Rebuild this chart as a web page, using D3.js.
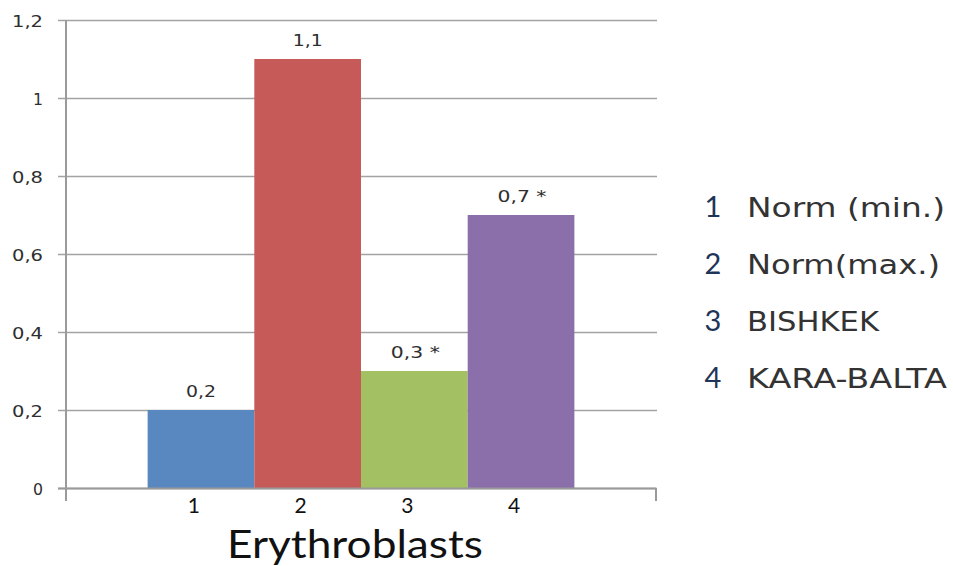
<!DOCTYPE html>
<html>
<head>
<meta charset="utf-8">
<script src="https://cdn.jsdelivr.net/npm/d3@7"></script>
<style>
  html, body { margin: 0; padding: 0; background: #fff; }
  svg { display: block; }
</style>
</head>
<body>
<svg id="chart" width="953" height="566"></svg>
<script>
// ---- data ----
const categories = ["1", "2", "3", "4"];
const values = [0.2, 1.1, 0.3, 0.7];
const valueLabels = ["0,2", "1,1", "0,3 *", "0,7 *"];
const seriesNames = ["Norm (min.)", "Norm(max.)", "BISHKEK", "KARA-BALTA"];
const colors = ["#5987C0", "#C65A58", "#A3C163", "#8A6FAA"];
const yTicks = [0, 0.2, 0.4, 0.6, 0.8, 1, 1.2];
const yTickLabels = ["0", "0,2", "0,4", "0,6", "0,8", "1", "1,2"];
const axisTitle = "Erythroblasts";

// ---- layout ----
const svg = d3.select("#chart");
const pL = 66, pR = 656, pT = 20, pB = 488;

const y = d3.scaleLinear().domain([0, 1.2]).range([pB, pT]);
const x = d3.scaleBand().domain(categories).range([pL, pR])
  .paddingInner(0).paddingOuter(0.765);

// gridlines + y ticks
svg.append("g").selectAll("line").data(yTicks).join("line")
  .attr("x1", pL - 8).attr("x2", pR + 1)
  .attr("y1", d => Math.round(y(d)) + 0.5).attr("y2", d => Math.round(y(d)) + 0.5)
  .attr("stroke", "#a3a3a3").attr("stroke-width", 1.3);

// y tick labels
svg.append("g").selectAll("text").data(yTicks).join("text")
  .attr("x", 43).attr("y", d => y(d) + 7)
  .attr("text-anchor", "end")
  .attr("font-family", "DejaVu Sans")
  .attr("font-size", 15.5)
  .attr("fill", "#2e2e2e")
  .attr("textLength", (d, i) => yTickLabels[i].length === 1 ? 10 : 31)
  .attr("lengthAdjust", "spacingAndGlyphs")
  .text((d, i) => yTickLabels[i]);

// bars
svg.append("g").selectAll("rect").data(values).join("rect")
  .attr("x", (d, i) => x(categories[i]))
  .attr("width", x.bandwidth())
  .attr("y", d => y(d))
  .attr("height", d => y(0) - y(d))
  .attr("fill", (d, i) => colors[i]);

// axes lines
svg.append("line").attr("x1", pL).attr("x2", pL).attr("y1", pT).attr("y2", pB + 13)
  .attr("stroke", "#9a9a9a").attr("stroke-width", 2);
svg.append("line").attr("x1", pL - 8).attr("x2", pR).attr("y1", pB + 0.5).attr("y2", pB + 0.5)
  .attr("stroke", "#9a9a9a").attr("stroke-width", 2);
svg.append("line").attr("x1", pR).attr("x2", pR).attr("y1", pB).attr("y2", pB + 13)
  .attr("stroke", "#9a9a9a").attr("stroke-width", 2);

// value labels
svg.append("g").selectAll("text").data(values).join("text")
  .attr("x", (d, i) => x(categories[i]) + x.bandwidth() / 2 + (valueLabels[i].length > 3 ? 1 : 0))
  .attr("y", d => y(d) - 13)
  .attr("text-anchor", "middle")
  .attr("font-family", "DejaVu Sans")
  .attr("font-size", 15)
  .attr("fill", "#2e2e2e")
  .attr("textLength", (d, i) => valueLabels[i].length > 3 ? 49 : 30)
  .attr("lengthAdjust", "spacingAndGlyphs")
  .text((d, i) => valueLabels[i]);

// category labels
svg.append("g").selectAll("text").data(categories).join("text")
  .attr("x", d => x(d) + x.bandwidth() / 2 - 7)
  .attr("y", pB + 25)
  .attr("text-anchor", "middle")
  .attr("font-family", "Lato")
  .attr("font-size", 21)
  .attr("fill", "#111")
  .text(d => d);

// axis title
svg.append("text")
  .attr("x", (pL + pR) / 2 - 6)
  .attr("y", 558)
  .attr("text-anchor", "middle")
  .attr("font-family", "Lato")
  .attr("font-size", 39)
  .attr("fill", "#111")
  .attr("textLength", 256)
  .attr("lengthAdjust", "spacingAndGlyphs")
  .text(axisTitle);

// legend
const legendY = d3.scalePoint().domain(categories).range([217, 388]);
const legendWidths = [198, 193, 132, 200];
const lg = svg.append("g");
lg.selectAll("text.num").data(categories).join("text")
  .attr("class", "num")
  .attr("x", 713).attr("y", d => legendY(d))
  .attr("text-anchor", "middle")
  .attr("font-family", "Lato")
  .attr("font-size", 29)
  .attr("fill", "#1f3558")
  .text(d => d);
lg.selectAll("text.lab").data(seriesNames).join("text")
  .attr("class", "lab")
  .attr("x", 747).attr("y", (d, i) => legendY(categories[i]))
  .attr("font-family", "DejaVu Sans")
  .attr("font-size", 27)
  .attr("fill", "#333")
  .attr("textLength", (d, i) => legendWidths[i])
  .attr("lengthAdjust", "spacingAndGlyphs")
  .text(d => d);
</script>
</body>
</html>
